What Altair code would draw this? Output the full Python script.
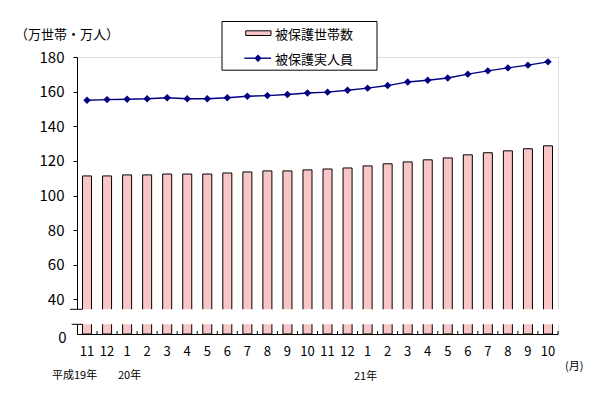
import altair as alt
import pandas as pd

# ---- data ----
periods = ["2007-11", "2007-12",
           "2008-01", "2008-02", "2008-03", "2008-04", "2008-05", "2008-06",
           "2008-07", "2008-08", "2008-09", "2008-10", "2008-11", "2008-12",
           "2009-01", "2009-02", "2009-03", "2009-04", "2009-05", "2009-06",
           "2009-07", "2009-08", "2009-09", "2009-10"]
households = [111.3, 111.3, 111.9, 111.9, 112.4, 112.4, 112.4, 113.0, 113.6, 114.2,
              114.2, 114.8, 115.3, 115.9, 117.1, 118.3, 119.4, 120.6, 121.7, 123.5,
              124.7, 125.8, 127.0, 128.7]
persons = [155.0, 155.4, 155.6, 155.9, 156.5, 155.9, 155.9, 156.5, 157.3, 157.7,
           158.3, 159.2, 159.7, 160.8, 162.0, 163.5, 165.6, 166.6, 167.9, 170.1,
           172.0, 173.7, 175.3, 177.2]
y_ticks = [40, 60, 80, 100, 120, 140, 160, 180]
series_names = ["被保護世帯数", "被保護実人員"]
unit_label = "（万世帯・万人）"
year_labels = ["平成19年", "20年", "21年"]
month_unit = "(月)"

df = pd.DataFrame({"period": periods, "households": households, "persons": persons})
one = pd.DataFrame({"k": [0]})

FONT = "Noto Sans CJK JP"
NAVY = "#000080"
BAR_FILL = "#f8c6c6"
W, H = 481, 277

xscale = alt.Scale(paddingInner=0.55, paddingOuter=0.275)
xaxis = alt.Axis(title=None, labelExpr="toNumber(split(datum.label,'-')[1])",
                 labelAngle=0, ticks=False, tickSize=0, labelPadding=11,
                 labelFontSize=13, labelColor="black", domainColor="black",
                 labelFont=FONT, labelOverlap=False)
yscale = alt.Scale(domain=[20, 180], nice=False, zero=False)
yaxis = alt.Axis(title=None, values=y_ticks, grid=False, tickSize=4,
                 labelPadding=9, labelFontSize=15, labelColor="black",
                 domainColor="black", tickColor="black", labelFont=FONT,
                 labelOverlap=False, labelFlush=False, labelBound=False)


def X(**kw):
    return alt.X("period:N", sort=periods, scale=xscale, axis=xaxis, **kw)


def Y(field):
    return alt.Y(field, scale=yscale, axis=yaxis)


bars = alt.Chart(df).mark_bar(fill=BAR_FILL, stroke="black", strokeWidth=1).encode(
    x=X(), y=Y("households:Q"), y2=alt.datum(20))

# break gap over bars and axis
gap = alt.Chart(one).mark_rect(color="white").encode(
    x=alt.value(-1), x2=alt.value(W + 1), y=alt.value(252.3), y2=alt.value(267.3))
cap1 = alt.Chart(one).mark_rule(color="black").encode(
    x=alt.value(-7), x2=alt.value(5.5), y=alt.value(252.3))
cap2 = alt.Chart(one).mark_rule(color="black").encode(
    x=alt.value(-5.3), x2=alt.value(5.5), y=alt.value(267.3))

# small inward x ticks at category boundaries
xticks = alt.Chart(df).mark_rule(color="black", xOffset=10).encode(
    x=X(bandPosition=0.5), y=alt.value(H - 3), y2=alt.value(H))

line = alt.Chart(df).mark_line(color=NAVY, strokeWidth=1.4).encode(
    x=X(), y=Y("persons:Q"))
pts = alt.Chart(df).mark_point(shape="diamond", filled=True, size=55, color=NAVY,
                               opacity=1).encode(x=X(), y=Y("persons:Q"))

zero_lbl = alt.Chart(one).mark_text(text="0", align="right", baseline="middle",
                                    fontSize=15, font=FONT, dy=4).encode(
    x=alt.value(-10.5), y=alt.value(H))

# legend
leg_box = alt.Chart(one).mark_rect(fill="white", stroke="black", strokeWidth=1).encode(
    x=alt.value(145), x2=alt.value(300), y=alt.value(-35.5), y2=alt.value(13.2))
leg_sw = alt.Chart(one).mark_rect(fill=BAR_FILL, stroke="black", strokeWidth=1).encode(
    x=alt.value(168.7), x2=alt.value(194), y=alt.value(-26.2), y2=alt.value(-21.5))
leg_t1 = alt.Chart(one).mark_text(text=series_names[0], align="left", baseline="middle",
                                  fontSize=13, font=FONT).encode(
    x=alt.value(198), y=alt.value(-22))
leg_ln = alt.Chart(one).mark_rule(color=NAVY, strokeWidth=1.4).encode(
    x=alt.value(167.3), x2=alt.value(194), y=alt.value(1.2))
leg_pt = alt.Chart(one).mark_point(shape="diamond", filled=True, size=55, color=NAVY,
                                   opacity=1).encode(
    x=alt.value(181), y=alt.value(1.2))
leg_t2 = alt.Chart(one).mark_text(text=series_names[1], align="left", baseline="middle",
                                  fontSize=13, font=FONT).encode(
    x=alt.value(198), y=alt.value(3))

unit_t = alt.Chart(one).mark_text(text=unit_label, align="left", baseline="middle",
                                  fontSize=13, font=FONT).encode(
    x=alt.value(-62), y=alt.value(-22.5))
yr1 = alt.Chart(one).mark_text(text=year_labels[0], align="left", baseline="middle",
                               fontSize=11, font=FONT).encode(
    x=alt.value(-25), y=alt.value(318.5))
yr2 = alt.Chart(one).mark_text(text=year_labels[1], align="left", baseline="middle",
                               fontSize=11, font=FONT).encode(
    x=alt.value(41), y=alt.value(318.5))
yr3 = alt.Chart(one).mark_text(text=year_labels[2], align="left", baseline="middle",
                               fontSize=11, font=FONT).encode(
    x=alt.value(277), y=alt.value(319.5))
mon = alt.Chart(one).mark_text(text=month_unit, align="left", baseline="middle",
                               fontSize=11, font=FONT).encode(
    x=alt.value(488), y=alt.value(309.5))

chart = alt.layer(
    bars, gap, cap1, cap2, xticks, line, pts, zero_lbl,
    leg_box, leg_sw, leg_t1, leg_ln, leg_pt, leg_t2,
    unit_t, yr1, yr2, yr3, mon,
).properties(
    width=W, height=H,
    autosize=alt.AutoSizeParams(type="none"),
    padding={"left": 69, "top": 49, "right": 40, "bottom": 53},
    background="white",
).configure_view(stroke=None).configure(font=FONT)

chart.save("out.html", embed_options={"renderer": "svg", "actions": False})
